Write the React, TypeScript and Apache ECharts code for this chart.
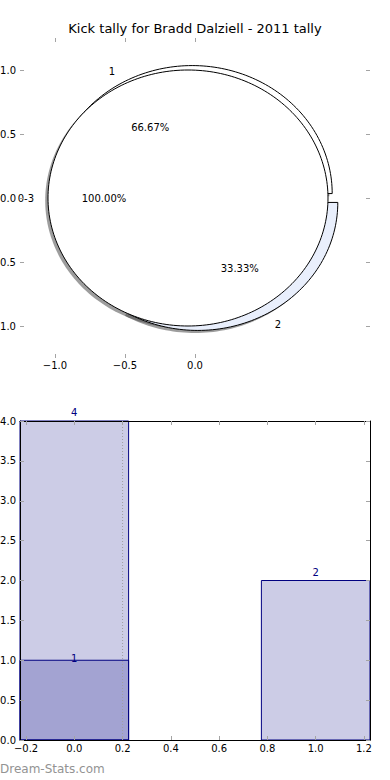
import React, { useEffect, useRef } from 'react';
import * as echarts from 'echarts';

// ---- data ----
const titleText = 'Kick tally for Bradd Dalziell - 2011 tally';
const watermarkText = 'Dream-Stats.com';
const outerLabels = ['1', '2'];
const outerValues = [2, 1];
const outerColors = ['#ffffff', '#e9effc'];
const innerLabels = ['0-3'];
const innerValues = [3];
const innerColors = ['#ffffff'];
const pieXTicks = [-1.0, -0.5, 0.0];
const pieYTicks = [-1.0, -0.5, 0.0, 0.5, 1.0];
const barX = [0, 1];
const barTotals = [4, 2];
const barSubX = [0];
const barSubValues = [1];
const barXTicks = [-0.2, 0.0, 0.2, 0.4, 0.6, 0.8, 1.0, 1.2];
const refLineX = [0.2];

// ---- styling constants ----
const FONT = '"DejaVu Sans", sans-serif';
const TICK_COLOR = '#a4a4a4';
const BAR_HALF = 0.225;
const OUTER_EXPLODE = 0.04;
const INNER_EXPLODE = 0.05;

type Wedge = { label: string; color: string; t1: number; t2: number; explode: number; pct: string };

function buildWedges(labels: string[], values: number[], colors: string[], explode: number): Wedge[] {
  const total = values.reduce((a, b) => a + b, 0);
  let acc = 0;
  return values.map((v, i) => {
    const t1 = (acc / total) * 360;
    acc += v;
    const t2 = (acc / total) * 360;
    return { label: labels[i], color: colors[i], t1, t2, explode, pct: ((v / total) * 100).toFixed(2) + '%' };
  });
}

const wedges: Wedge[] = [
  ...buildWedges(outerLabels, outerValues, outerColors, OUTER_EXPLODE),
  ...buildWedges(innerLabels, innerValues, innerColors, INNER_EXPLODE),
];

const fmt = (v: number) => (v < -1e-9 ? '\u2212' : '') + Math.abs(v).toFixed(1);

function wedgeRender(kind: 'shadow' | 'wedge' | 'label') {
  return (params: any, api: any) => {
    const w = wedges[params.dataIndex];
    const mid = (((w.t1 + w.t2) / 2) * Math.PI) / 180;
    const cx = w.explode * Math.cos(mid);
    const cy = w.explode * Math.sin(mid);
    if (kind === 'label') {
      const lx = cx + 1.1 * Math.cos(mid);
      const ly = cy + 1.1 * Math.sin(mid);
      const px = cx + 0.6 * Math.cos(mid);
      const py = cy + 0.6 * Math.sin(mid);
      const lp = api.coord([lx, ly]);
      const pp = api.coord([px, py]);
      return {
        type: 'group',
        children: [
          {
            type: 'text',
            style: { text: w.label, x: lp[0], y: lp[1], align: lx > 0 ? 'left' : 'right', verticalAlign: 'middle', fill: '#000', font: '10px ' + FONT },
          },
          {
            type: 'text',
            style: { text: w.pct, x: pp[0], y: pp[1], align: 'center', verticalAlign: 'middle', fill: '#000', font: '10px ' + FONT },
          },
        ],
      };
    }
    const d = kind === 'shadow' ? -0.02 : 0;
    const full = w.t2 - w.t1 >= 359.999;
    const pts: number[][] = [];
    if (!full) pts.push(api.coord([cx + d, cy + d]));
    const n = Math.max(12, Math.ceil((w.t2 - w.t1) / 1.5));
    for (let k = 0; k <= n; k++) {
      const a = ((w.t1 + ((w.t2 - w.t1) * k) / n) * Math.PI) / 180;
      pts.push(api.coord([cx + d + Math.cos(a), cy + d + Math.sin(a)]));
    }
    return {
      type: 'polygon',
      shape: { points: pts },
      style: kind === 'shadow' ? { fill: 'rgba(77,77,77,0.55)' } : { fill: w.color, stroke: '#000', lineWidth: 1 },
    };
  };
}

function barRender(labelOffset: number) {
  return (params: any, api: any) => {
    const x = api.value(0);
    const v = api.value(1);
    const p0 = api.coord([x - BAR_HALF, v]);
    const p1 = api.coord([x + BAR_HALF, 0]);
    const top = api.coord([x, v]);
    return {
      type: 'group',
      children: [
        {
          type: 'rect',
          shape: { x: p0[0], y: p0[1], width: p1[0] - p0[0], height: p1[1] - p0[1] },
          style: { fill: 'rgba(0,0,128,0.2)', stroke: '#000080', lineWidth: 1 },
        },
        {
          type: 'text',
          style: { text: String(v), x: top[0], y: top[1] + labelOffset, align: 'center', verticalAlign: 'middle', fill: '#000080', font: '10px ' + FONT },
        },
      ],
    };
  };
}

export default function App() {
  const ref = useRef<HTMLDivElement>(null);
  useEffect(() => {
    if (!ref.current) return;
    const chart = echarts.init(ref.current, undefined, { renderer: 'svg' });
    const labelStyle = { color: '#000', fontSize: 10, fontFamily: FONT };
    const tick = (vals: number[] | null) => ({
      show: true,
      inside: true,
      length: 4,
      lineStyle: { color: TICK_COLOR, width: 1 },
      ...(vals ? { customValues: vals } : {}),
    });
    const hiddenLine = { show: false, onZero: false };
    const spine = { show: true, onZero: false, lineStyle: { color: '#000', width: 1 } };
    const option: any = {
      animation: false,
      backgroundColor: '#fff',
      grid: [
        { left: 20, width: 350, top: 38, height: 320, outerBoundsMode: 'none', containLabel: false },
        { left: 20, width: 350, top: 421, height: 319, outerBoundsMode: 'none', containLabel: false },
      ],
      xAxis: [
        {
          type: 'value', gridIndex: 0, position: 'bottom', min: -1.25, max: 1.25, z: 10,
          axisLine: hiddenLine, axisTick: tick(pieXTicks), splitLine: { show: false },
          axisLabel: { ...labelStyle, margin: 2, customValues: pieXTicks, formatter: fmt },
        },
        {
          type: 'value', gridIndex: 0, position: 'top', min: -1.25, max: 1.25, z: 10,
          axisLine: hiddenLine, axisTick: tick(pieXTicks), splitLine: { show: false },
          axisLabel: { show: false },
        },
        {
          type: 'value', gridIndex: 1, position: 'bottom', min: -BAR_HALF, max: 1 + BAR_HALF, z: 10,
          axisLine: spine, axisTick: tick(barXTicks), splitLine: { show: false },
          axisLabel: { ...labelStyle, margin: 3, customValues: barXTicks, formatter: fmt },
        },
        {
          type: 'value', gridIndex: 1, position: 'top', min: -BAR_HALF, max: 1 + BAR_HALF, z: 10,
          axisLine: spine, axisTick: tick(barXTicks), splitLine: { show: false },
          axisLabel: { show: false },
        },
      ],
      yAxis: [
        {
          type: 'value', gridIndex: 0, position: 'left', min: -1.25, max: 1.25, z: 10,
          axisLine: hiddenLine, axisTick: tick(pieYTicks), splitLine: { show: false },
          axisLabel: { ...labelStyle, margin: 4, customValues: pieYTicks, formatter: fmt },
        },
        {
          type: 'value', gridIndex: 0, position: 'right', min: -1.25, max: 1.25, z: 10,
          axisLine: hiddenLine, axisTick: tick(pieYTicks), splitLine: { show: false },
          axisLabel: { show: false },
        },
        {
          type: 'value', gridIndex: 1, position: 'left', min: 0, max: 4, interval: 0.5, z: 10,
          axisLine: spine, axisTick: tick(null), splitLine: { show: false },
          axisLabel: { ...labelStyle, margin: 4, formatter: fmt },
        },
        {
          type: 'value', gridIndex: 1, position: 'right', min: 0, max: 4, interval: 0.5, z: 10,
          axisLine: spine, axisTick: tick(null), splitLine: { show: false },
          axisLabel: { show: false },
        },
      ],
      graphic: [
        {
          type: 'text', left: 'center', top: 22, z: 100,
          style: { text: titleText, fill: '#000', font: '13px ' + FONT },
        },
        {
          type: 'text', left: 0, top: 763, z: 100,
          style: { text: watermarkText, fill: '#939393', font: '12px ' + FONT },
        },
      ],
      series: [
        { type: 'custom', name: 'shadow', xAxisIndex: 0, yAxisIndex: 0, z: 1, data: wedges.map(() => [0, 0]), renderItem: wedgeRender('shadow'), silent: true },
        { type: 'custom', name: 'wedges', xAxisIndex: 0, yAxisIndex: 0, z: 2, data: wedges.map(() => [0, 0]), renderItem: wedgeRender('wedge'), silent: true },
        { type: 'custom', name: 'pielabels', xAxisIndex: 0, yAxisIndex: 0, z: 3, data: wedges.map(() => [0, 0]), renderItem: wedgeRender('label'), silent: true },
        { type: 'custom', name: 'totals', xAxisIndex: 2, yAxisIndex: 2, z: 2, data: barX.map((x, i) => [x, barTotals[i]]), renderItem: barRender(-8.5), silent: true },
        { type: 'custom', name: 'sub', xAxisIndex: 2, yAxisIndex: 2, z: 3, data: barSubX.map((x, i) => [x, barSubValues[i]]), renderItem: barRender(-2), silent: true },
        {
          type: 'custom', name: 'ref', xAxisIndex: 2, yAxisIndex: 2, z: 4, silent: true,
          data: refLineX.map((x) => [x, 0]),
          renderItem: (params: any, api: any) => {
            const x = api.value(0);
            const a = api.coord([x, 0]);
            const b = api.coord([x, 4]);
            return { type: 'line', shape: { x1: a[0], y1: a[1], x2: b[0], y2: b[1] }, style: { stroke: '#a0a0a0', lineWidth: 1, lineDash: [1, 2] } };
          },
        },
      ],
    };
    chart.setOption(option);
    return () => chart.dispose();
  }, []);
  return <div ref={ref} style={{ position: 'absolute', left: 0, top: 0, width: 390, height: 780 }} />;
}
